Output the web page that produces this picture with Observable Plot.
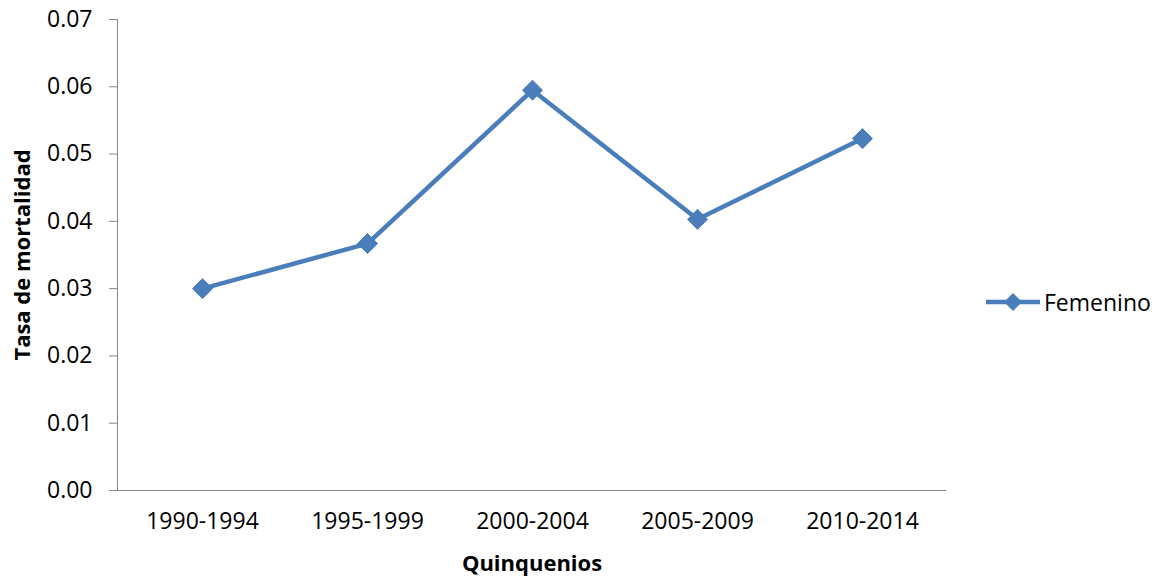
<!DOCTYPE html>
<html>
<head>
<meta charset="utf-8">
<script src="https://cdn.jsdelivr.net/npm/d3@7"></script>
<script src="https://cdn.jsdelivr.net/npm/@observablehq/plot@0.6"></script>
<style>
  html, body { margin: 0; padding: 0; background: #fff; }
  #wrap { position: relative; width: 1160px; height: 579px; font-family: "Open Sans", sans-serif; }
  #legend { position: absolute; left: 984px; top: 286px; display: flex; align-items: center; font-size: 23px; color: #000; }
  #chart svg g[aria-label="y-axis tick label"] text, #chart svg g[aria-label="x-axis tick label"] text { font-size: 23px; }
</style>
</head>
<body>
<div id="wrap">
  <div id="chart"></div>
  <div id="legend"></div>
</div>
<script>
const categories = ["1990-1994", "1995-1999", "2000-2004", "2005-2009", "2010-2014"];
const femenino = [0.0300, 0.0367, 0.0595, 0.0403, 0.0523];
const yTicks = [0, 0.01, 0.02, 0.03, 0.04, 0.05, 0.06, 0.07];
const seriesName = "Femenino";

const color = "#4A7EBB";
const data = categories.map((c, i) => ({ q: c, v: femenino[i] }));

const chart = Plot.plot({
  width: 980,
  height: 579,
  marginLeft: 117,
  marginTop: 19,
  marginBottom: 89,
  marginRight: 34,
  style: { fontFamily: "Open Sans, sans-serif", fontSize: "23px", color: "#000", background: "#fff" },
  x: { type: "point", domain: categories, padding: 0.5, label: null },
  y: { domain: [0, 0.07], label: null },
  marks: [
    Plot.axisY({ ticks: yTicks, tickFormat: d3.format(".2f"), tickSize: 8, tickPadding: 17, stroke: "#868686", fill: "#000", label: null, fontSize: 23 }),
    Plot.axisX({ tickSize: 0, tickPadding: 22, fill: "#000", label: null, fontSize: 23 }),
    Plot.frame({ anchor: "left", stroke: "#868686" }),
    Plot.ruleY([0], { stroke: "#868686" }),
    Plot.line(data, { x: "q", y: "v", stroke: color, strokeWidth: 4.5 }),
    Plot.dot(data, { x: "q", y: "v", symbol: "diamond2", r: 9, fill: color, stroke: color, strokeWidth: 1 }),
    Plot.text(["Quinquenios"], { frameAnchor: "bottom", dy: 80, text: d => d, fontWeight: "bold", fontSize: 22 }),
    Plot.text(["Tasa de mortalidad"], { frameAnchor: "left", dx: -95, rotate: -90, textAnchor: "middle", text: d => d, fontWeight: "bold", fontSize: 22 })
  ]
});
document.getElementById("chart").appendChild(chart);

const lg = document.getElementById("legend");
lg.innerHTML = `<svg width="58" height="28"><line x1="2" y1="14" x2="56" y2="14" stroke="${color}" stroke-width="4.5"/><path d="M29,5 L38,14 L29,23 L20,14 Z" fill="${color}"/></svg><span style="margin-left:2px">${seriesName}</span>`;
</script>
</body>
</html>
